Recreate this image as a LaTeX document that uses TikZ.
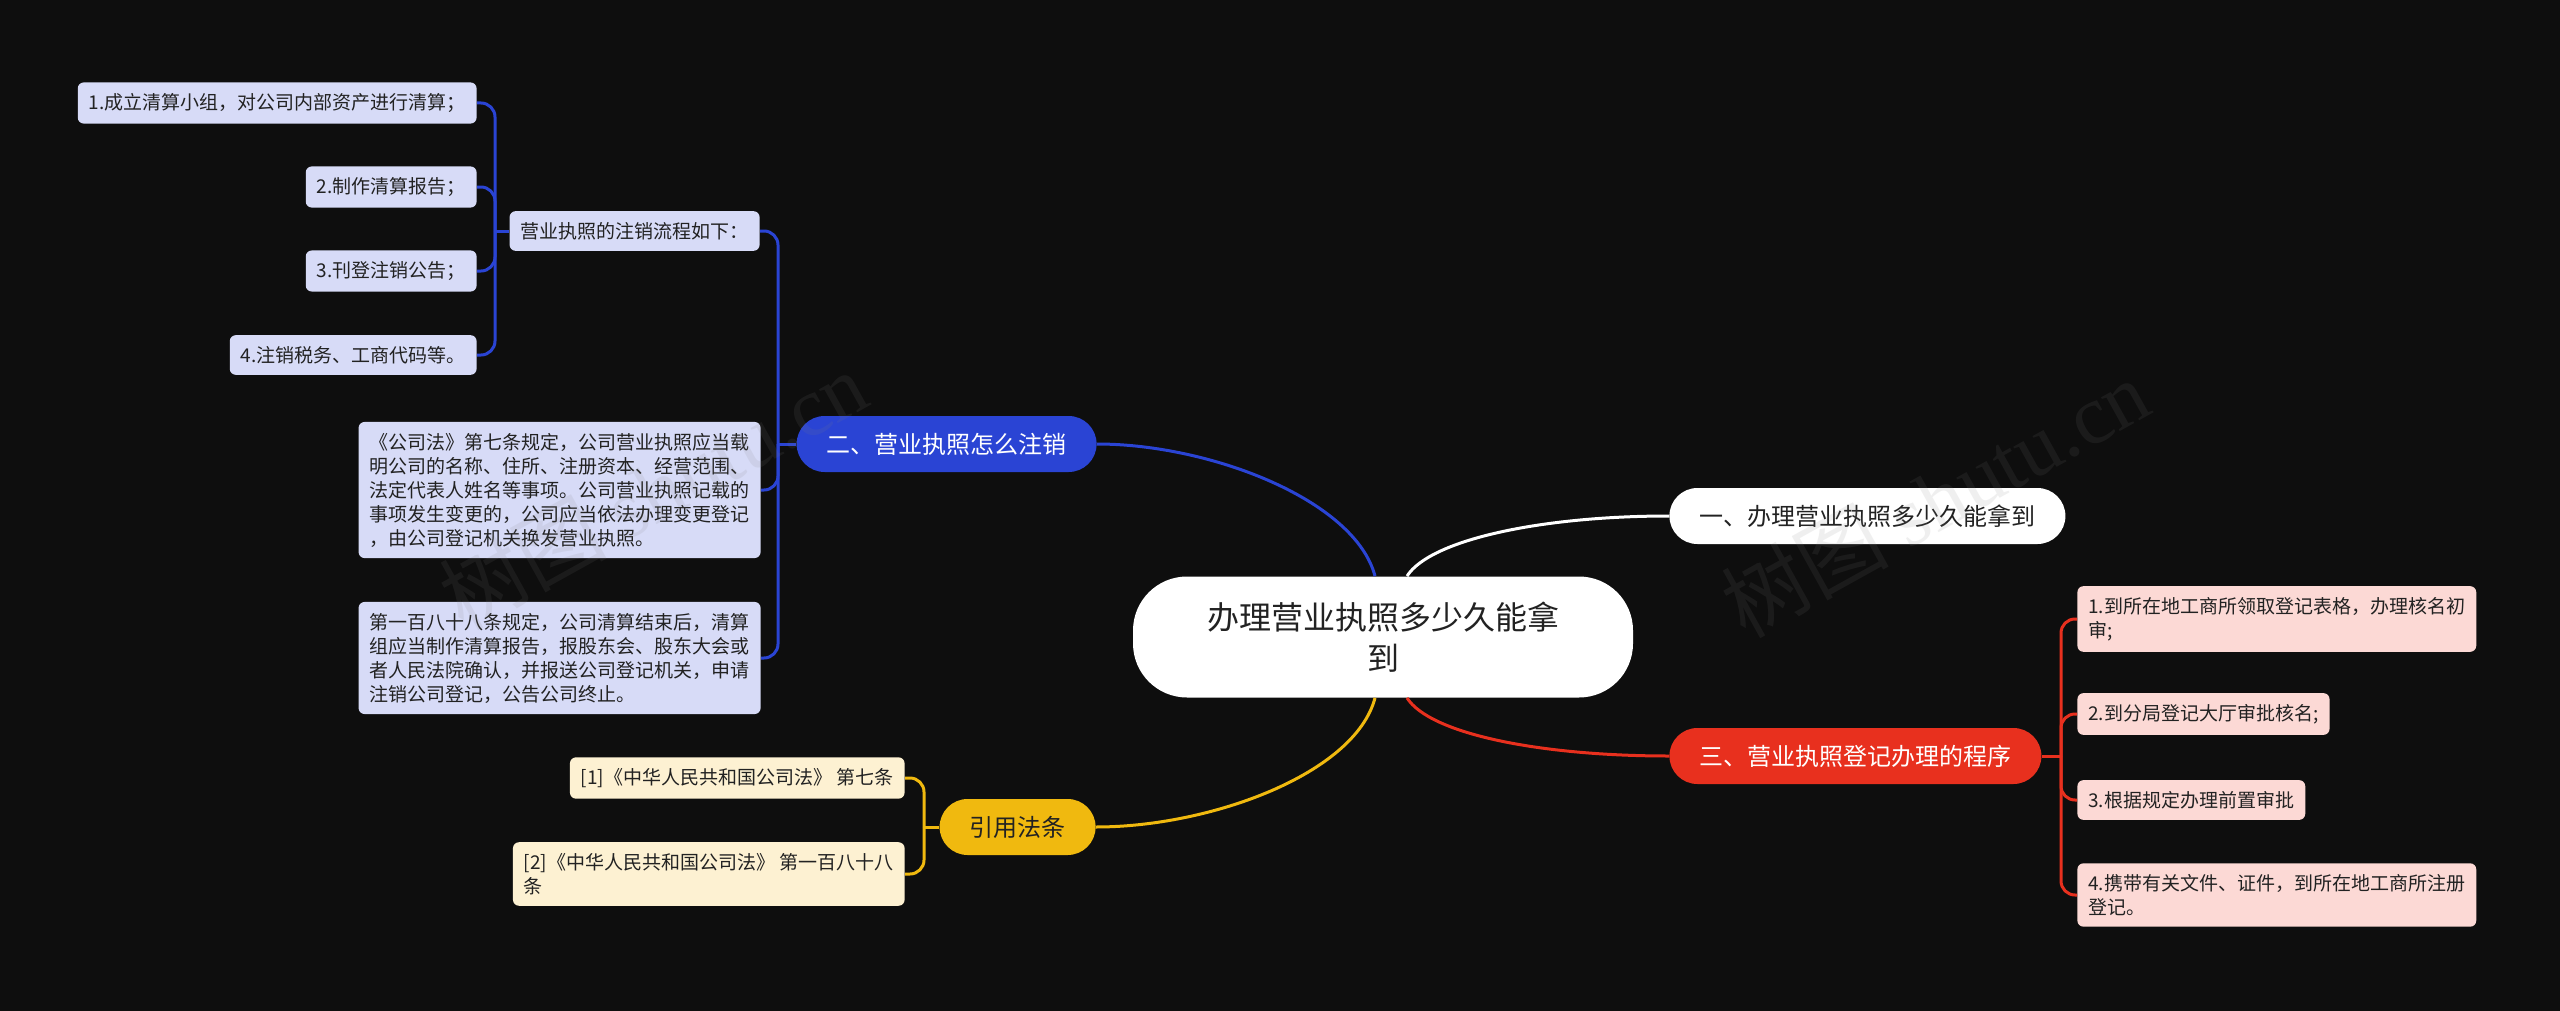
\documentclass[tikz,border=0pt]{standalone}
\usepackage{fontspec}
\setmainfont{Noto Sans CJK SC}
\newfontfamily\wmserif{Liberation Serif}

\definecolor{bgdark}{HTML}{0E0E0E}
\definecolor{mapblue}{HTML}{2A44D4}
\definecolor{bluepale}{HTML}{D7DBF7}
\definecolor{mapred}{HTML}{E8301E}
\definecolor{redpale}{HTML}{FCD9D5}
\definecolor{mapyellow}{HTML}{F0B90F}
\definecolor{yellowpale}{HTML}{FDF1D2}
\definecolor{inkdark}{HTML}{222222}
\definecolor{wmgray}{HTML}{808080}

\begin{document}
\begin{tikzpicture}[x=0.5pt, y=-0.5pt,
    root/.style={fill=white, text=inkdark, rounded corners=27pt, align=center,
        font=\fontsize{16}{20.5}\selectfont, minimum width=250pt, minimum height=60.5pt},
    topic/.style={rounded corners=14pt, minimum height=28pt, inner xsep=15pt,
        font=\fontsize{12}{14}\selectfont},
    leaf/.style={rounded corners=3pt, align=left, inner xsep=5.5pt, inner ysep=5.5pt,
        text=inkdark, font=\fontsize{9.5}{12}\selectfont},
    link/.style={line width=1.5pt},
    watermark/.style={rotate=29, text=wmgray, text opacity=0.12,
        font=\fontsize{42}{42}\selectfont}]

    % background
    \useasboundingbox (0,0) rectangle (2560,1011);
    \fill[bgdark] (0,0) rectangle (2560,1011);

    % central topic
    \node[root] (root) at (1383,637) {办理营业执照多少久能拿\\到};

    % main branches
    \node[topic, fill=white, text=inkdark, anchor=west] (t1) at (1669,516) {一、办理营业执照多少久能拿到};
    \node[topic, fill=mapblue, text=white, anchor=east] (t2) at (1097,444) {二、营业执照怎么注销};
    \node[topic, fill=mapred, text=white, anchor=west] (t3) at (1669,756) {三、营业执照登记办理的程序};
    \node[topic, fill=mapyellow, text=inkdark, anchor=east] (t4) at (1096,827) {引用法条};

    % branch two: cancellation
    \node[leaf, fill=bluepale, anchor=east] (flow) at (760,231) {营业执照的注销流程如下：};
    \node[leaf, fill=bluepale, anchor=east] (step1) at (477,103) {1.成立清算小组，对公司内部资产进行清算；};
    \node[leaf, fill=bluepale, anchor=east] (step2) at (477,187) {2.制作清算报告；};
    \node[leaf, fill=bluepale, anchor=east] (step3) at (477,271) {3.刊登注销公告；};
    \node[leaf, fill=bluepale, anchor=east] (step4) at (477,355) {4.注销税务、工商代码等。};
    \node[leaf, fill=bluepale, anchor=east] (lawA) at (761,490) {《公司法》第七条规定，公司营业执照应当载\\明公司的名称、住所、注册资本、经营范围、\\法定代表人姓名等事项。公司营业执照记载的\\事项发生变更的，公司应当依法办理变更登记\\，由公司登记机关换发营业执照。};
    \node[leaf, fill=bluepale, anchor=east] (lawB) at (761,658) {第一百八十八条规定，公司清算结束后，清算\\组应当制作清算报告，报股东会、股东大会或\\者人民法院确认，并报送公司登记机关，申请\\注销公司登记，公告公司终止。};

    % branch three: procedure
    \node[leaf, fill=redpale, anchor=west] (reg1) at (2077,619) {1.到所在地工商所领取登记表格，办理核名初\\审;};
    \node[leaf, fill=redpale, anchor=west] (reg2) at (2077,714) {2.到分局登记大厅审批核名;};
    \node[leaf, fill=redpale, anchor=west] (reg3) at (2077,800) {3.根据规定办理前置审批};
    \node[leaf, fill=redpale, anchor=west] (reg4) at (2077,895) {4.携带有关文件、证件，到所在地工商所注册\\登记。};

    % cited articles
    \node[leaf, fill=yellowpale, anchor=east] (cite1) at (905,778) {[1]《中华人民共和国公司法》 第七条};
    \node[leaf, fill=yellowpale, anchor=east] (cite2) at (905,874) {[2]《中华人民共和国公司法》 第一百八十八\\条};

    % forks
    \coordinate (flowfork) at (495,231);
    \coordinate (t2fork) at (778,444);
    \coordinate (t3fork) at (2061,756);
    \coordinate (t4fork) at (924,827);

    % root to branches
    \draw[link, mapblue] ([xshift=-4pt]root.north) .. controls (1355,500) and (1210,444) .. (t2.east);
    \draw[link, white] ([xshift=12pt]root.north) .. controls (1430,540) and (1540,516) .. (t1.west);
    \draw[link, mapred] ([xshift=12pt]root.south) .. controls (1430,734) and (1540,756) .. (t3.west);
    \draw[link, mapyellow] ([xshift=-4pt]root.south) .. controls (1355,774) and (1210,827) .. (t4.east);

    % blue brackets
    \draw[link, mapblue] (t2.west) -- (t2fork);
    \draw[link, mapblue, rounded corners=7pt] (t2fork) |- (flow.east);
    \draw[link, mapblue, rounded corners=7pt] (t2fork) |- (lawA.east);
    \draw[link, mapblue, rounded corners=7pt] (t2fork) |- (lawB.east);
    \draw[link, mapblue] (flow.west) -- (flowfork);
    \draw[link, mapblue, rounded corners=7pt] (flowfork) |- (step1.east);
    \draw[link, mapblue, rounded corners=7pt] (flowfork) |- (step2.east);
    \draw[link, mapblue, rounded corners=7pt] (flowfork) |- (step3.east);
    \draw[link, mapblue, rounded corners=7pt] (flowfork) |- (step4.east);

    % red bracket
    \draw[link, mapred] (t3.east) -- (t3fork);
    \draw[link, mapred, rounded corners=7pt] (t3fork) |- (reg1.west);
    \draw[link, mapred, rounded corners=7pt] (t3fork) |- (reg2.west);
    \draw[link, mapred, rounded corners=7pt] (t3fork) |- (reg3.west);
    \draw[link, mapred, rounded corners=7pt] (t3fork) |- (reg4.west);

    % yellow bracket
    \draw[link, mapyellow] (t4.west) -- (t4fork);
    \draw[link, mapyellow, rounded corners=7pt] (t4fork) |- (cite1.east);
    \draw[link, mapyellow, rounded corners=7pt] (t4fork) |- (cite2.east);

    % watermarks
    \node[watermark] (wm1) at (653,490) {树图 {\wmserif shutu.cn}};
    \node[watermark] (wm2) at (1935,498) {树图 {\wmserif shutu.cn}};
\end{tikzpicture}
\end{document}
